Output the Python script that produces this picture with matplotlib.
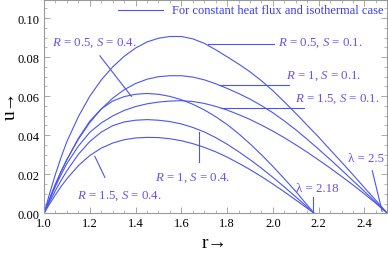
import matplotlib
matplotlib.use("Agg")
import matplotlib.pyplot as plt

plt.rcParams['font.family'] = ['Liberation Serif', 'DejaVu Serif']
plt.rcParams['mathtext.fontset'] = 'custom'
plt.rcParams['mathtext.rm'] = 'Liberation Serif'
plt.rcParams['mathtext.it'] = 'Liberation Serif:italic'

# r grids
r_s01 = [1.0, 1.025, 1.05, 1.075, 1.1, 1.15, 1.2, 1.25, 1.3, 1.35, 1.4, 1.45, 1.5, 1.55, 1.6,
         1.65, 1.7, 1.75, 1.8, 1.85, 1.9, 1.95, 2.0, 2.05, 2.1, 2.15, 2.2, 2.25, 2.3, 2.35,
         2.4, 2.45, 2.5]
r_s04 = [1.0, 1.025, 1.05, 1.075, 1.1, 1.15, 1.2, 1.25, 1.3, 1.35, 1.4, 1.45, 1.5, 1.55, 1.6,
         1.65, 1.7, 1.75, 1.8, 1.85, 1.9, 1.95, 2.0, 2.05, 2.1, 2.15, 2.18]

# S = 0.1 (lambda = 2.5)
u_r05_s01 = [0, 0.0103, 0.0200, 0.0288, 0.0368, 0.0495, 0.0600, 0.0683, 0.0750, 0.0804,
             0.0847, 0.0878, 0.0897, 0.0906, 0.0906, 0.0894, 0.0871, 0.0838, 0.0802, 0.0765,
             0.0725, 0.0679, 0.0628, 0.0571, 0.0512, 0.0451, 0.0390, 0.0326, 0.0262, 0.0197,
             0.0131, 0.0066, 0]
u_r1_s01 = [0, 0.0077, 0.0150, 0.0216, 0.0276, 0.0379, 0.0465, 0.0534, 0.0590, 0.0633,
            0.0665, 0.0687, 0.0700, 0.0705, 0.0705, 0.0698, 0.0684, 0.0664, 0.0640, 0.0614,
            0.0585, 0.0552, 0.0515, 0.0473, 0.0428, 0.0379, 0.0328, 0.0276, 0.0222, 0.0167,
            0.0112, 0.0056, 0]
u_r15_s01 = [0, 0.0072, 0.0138, 0.0199, 0.0255, 0.0344, 0.0415, 0.0463, 0.0499, 0.0527,
             0.0547, 0.0561, 0.0570, 0.0575, 0.0577, 0.0573, 0.0563, 0.0548, 0.0529, 0.0506,
             0.0481, 0.0452, 0.0421, 0.0387, 0.0351, 0.0313, 0.0273, 0.0232, 0.0189, 0.0145,
             0.0099, 0.0051, 0]
# S = 0.4 (lambda = 2.18)
u_r05_s04 = [0, 0.0076, 0.0147, 0.0214, 0.0275, 0.0384, 0.0472, 0.0535, 0.0575, 0.0598,
             0.0610, 0.0614, 0.0610, 0.0599, 0.0582, 0.0559, 0.0530, 0.0495, 0.0455, 0.0408,
             0.0356, 0.0300, 0.0240, 0.0177, 0.0112, 0.0042, 0]
u_r1_s04 = [0, 0.0060, 0.0117, 0.0169, 0.0218, 0.0302, 0.0368, 0.0416, 0.0449, 0.0468,
            0.0477, 0.0480, 0.0477, 0.0470, 0.0458, 0.0440, 0.0417, 0.0388, 0.0354, 0.0316,
            0.0275, 0.0231, 0.0184, 0.0135, 0.0084, 0.0032, 0]
u_r15_s04 = [0, 0.0049, 0.0095, 0.0138, 0.0177, 0.0244, 0.0296, 0.0334, 0.0360, 0.0377,
             0.0386, 0.0389, 0.0388, 0.0382, 0.0372, 0.0357, 0.0338, 0.0315, 0.0288, 0.0257,
             0.0224, 0.0188, 0.0150, 0.0110, 0.0068, 0.0026, 0]

line_c = '#4a55f2'
text_c = '#6650ee'

fig = plt.figure(figsize=(3.88, 2.55), dpi=100)
ax = fig.add_axes([0.1134, 0.1596, 0.885, 0.838])

for u in [u_r05_s01, u_r1_s01, u_r15_s01]:
    ax.plot(r_s01, u, color=line_c, lw=0.8)
for u in [u_r05_s04, u_r1_s04, u_r15_s04]:
    ax.plot(r_s04, u, color=line_c, lw=0.8)

ax.set_xlim(1.0, 2.5)
ax.set_ylim(0, 0.1095)
ax.set_xticks([1.0, 1.2, 1.4, 1.6, 1.8, 2.0, 2.2, 2.4])
ax.set_yticks([0.0, 0.02, 0.04, 0.06, 0.08, 0.10])
ax.set_xticklabels(['1.0', '1.2', '1.4', '1.6', '1.8', '2.0', '2.2', '2.4'])
ax.set_yticklabels(['0.00', '0.02', '0.04', '0.06', '0.08', '0.10'])
ax.set_xticks([1.0 + 0.05 * i for i in range(31)], minor=True)
ax.set_yticks([0.005 * i for i in range(22)], minor=True)
ax.tick_params(which='both', direction='in', top=True, right=True, color='#999999',
               labelsize=9, pad=3)
ax.tick_params(which='major', length=4, width=0.6)
ax.tick_params(which='minor', length=2, width=0.5)
for s in ax.spines.values():
    s.set_color('#999999')
    s.set_linewidth(0.8)

# legend-like line
ax.plot([1.323, 1.519], [0.1041, 0.1041], color=line_c, lw=0.8)
ax.text(2.484, 0.1041, 'For constant heat flux and isothermal case', color='#3a3af0',
        fontsize=9, va='center', ha='right')

lab = dict(color=text_c, fontsize=9.3, va='center', ha='left')
ax.text(1.0335, 0.0879, r'$R$ = 0.5, $S$ = 0.4.', **lab)
ax.plot([1.244, 1.382], [0.0807, 0.0599], color=line_c, lw=0.8)

ax.text(2.024, 0.0879, r'$R$ = 0.5, $S$ = 0.1.', **lab)
ax.plot([1.715, 2.005], [0.0867, 0.0867], color=line_c, lw=0.8)

ax.text(2.059, 0.0705, r'$R$ = 1, $S$ = 0.1.', **lab)
ax.plot([1.766, 2.071], [0.0657, 0.0657], color=line_c, lw=0.8)

ax.text(2.097, 0.0589, r'$R$ = 1.5, $S$ = 0.1.', **lab)
ax.plot([1.774, 2.136], [0.0538, 0.0538], color=line_c, lw=0.8)

ax.text(1.483, 0.0187, r'$R$ = 1, $S$ = 0.4.', **lab)
ax.plot([1.676, 1.676], [0.0415, 0.0262], color=line_c, lw=0.8)

ax.text(1.142, 0.0094, r'$R$ = 1.5, $S$ = 0.4.', **lab)
ax.plot([1.222, 1.266], [0.0292, 0.0184], color=line_c, lw=0.8)

ax.text(2.099, 0.0130, 'λ = 2.18', **lab)
ax.plot([2.175, 2.175], [0.0085, 0.0], color=line_c, lw=0.8)

ax.text(2.329, 0.0282, 'λ = 2.5', **lab)
ax.plot([2.434, 2.477], [0.0218, 0.001], color=line_c, lw=0.8)

fig.text(0.026, 0.588, 'u→', rotation=90, fontsize=14, ha='center', va='center')
fig.text(0.554, 0.045, 'r→', fontsize=14, ha='center', va='center')

fig.savefig('out.png', dpi=100)
